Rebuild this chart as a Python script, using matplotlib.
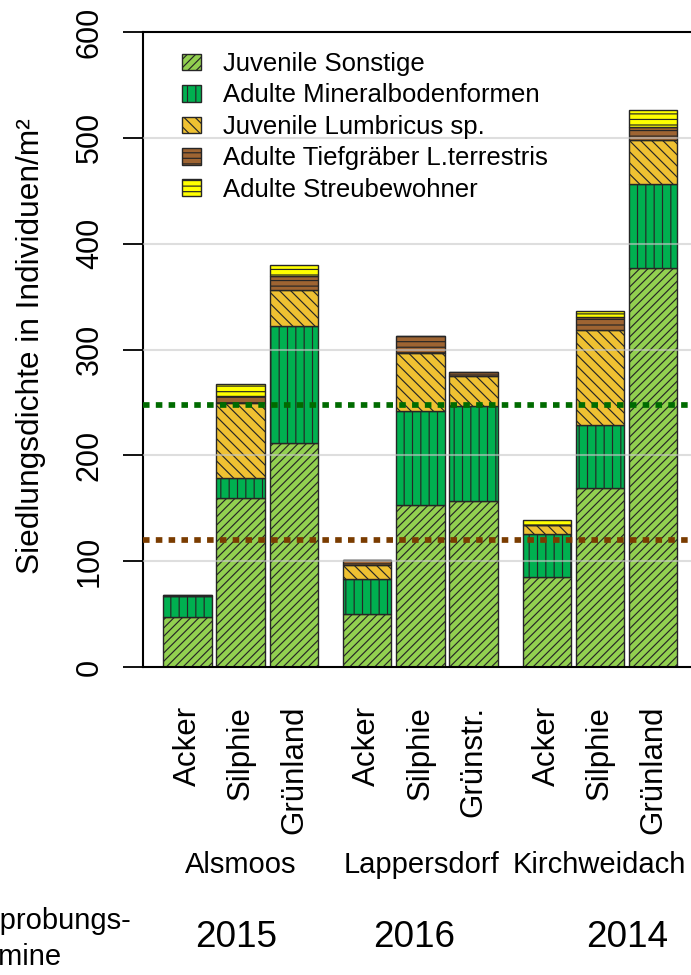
import matplotlib
matplotlib.use("Agg")
import matplotlib.pyplot as plt
import numpy as np

plt.rcParams['font.family'] = ['Liberation Sans', 'DejaVu Sans']
plt.rcParams['hatch.linewidth'] = 0.85

# Sampling sites, years and land use per bar
sites = ["Alsmoos", "Lappersdorf", "Kirchweidach"]
years = ["2015", "2016", "2014"]
uses = ["Acker", "Silphie", "Grünland",
        "Acker", "Silphie", "Grünstr.",
        "Acker", "Silphie", "Grünland"]

# Earthworm density (individuals per m²) by ecological group
juv_sonstige = [47.5, 160, 212, 50, 153, 157, 85, 169, 377]
ad_mineral = [20, 19, 110, 33, 89, 90, 40.5, 60, 79]
juv_lumbricus = [0, 70, 34.5, 13, 54.5, 27.5, 9, 89, 42]
ad_tiefgraeber = [0.8, 7.5, 13, 5.5, 16.5, 4.5, 0, 13, 12.5]
ad_streu = [0, 11, 10, 0, 0, 0, 4, 5.5, 16]

# Reference levels (dotted lines)
ref_green = 248
ref_brown = 120

series = [
    ("Juvenile Sonstige", juv_sonstige, "#92d050", "////"),
    ("Adulte Mineralbodenformen", ad_mineral, "#00b050", "||"),
    ("Juvenile Lumbricus sp.", juv_lumbricus, "#efc132", "\\\\\\"),
    ("Adulte Tiefgräber L.terrestris", ad_tiefgraeber, "#9e6432", "---"),
    ("Adulte Streubewohner", ad_streu, "#ffff00", "---"),
]

W, H = 691, 975
fig = plt.figure(figsize=(W / 100, H / 100), dpi=100)
ax = fig.add_axes([143 / W, 1 - 667 / H, (W - 143) / W, (667 - 32) / H])

gap = 0.376
x = np.array([g * (3 + gap) + i for g in range(len(sites)) for i in range(3)])
bottom = np.zeros(len(x))
handles = []
for label, vals, color, hatch in series:
    v = np.array(vals, dtype=float)
    bars = ax.bar(x, v, width=0.91, bottom=bottom, color=color,
                  edgecolor="#262626", linewidth=1.0, hatch=hatch,
                  label=label, zorder=2)
    handles.append(bars)
    bottom += v

ax.set_xlim(-0.836, 9.464)
ax.set_ylim(0, 600)
yticks = list(range(0, 601, 100))
ax.set_yticks(yticks)
for yv in yticks[1:-1]:
    ax.axhline(yv, color="#c8c8c8", alpha=0.6, lw=1.5, zorder=3)

ax.axhline(ref_green, color="#006b00", lw=4.1, ls=(0, (1.15, 1.1)), zorder=4)
ax.axhline(ref_brown, color="#7a3c00", lw=4.1, ls=(0, (1.15, 1.1)), zorder=4)

for side in ["left", "top", "bottom"]:
    ax.spines[side].set_linewidth(1.5)
ax.spines["right"].set_visible(False)

ax.tick_params(axis="y", length=14.4, width=1.3, labelsize=22,
               labelrotation=90, pad=13)
for lab in ax.get_yticklabels():
    lab.set_va("center")

ax.set_xticks(x)
ax.set_xticklabels(uses, rotation=90, fontsize=22.5)
ax.tick_params(axis="x", length=0, pad=28)

ax.set_ylabel("Siedlungsdichte in Individuen/m²", fontsize=22.8)
ax.yaxis.set_label_coords((46 - 143) / (W - 143), 0.506)

ax.legend(handles, [s[0] for s in series], loc="upper left",
          bbox_to_anchor=(182 / W, 1 - 52 / H), bbox_transform=fig.transFigure,
          frameon=False, fontsize=18.5, handlelength=0.74, handleheight=0.62,
          handletextpad=0.85, labelspacing=0.29, borderpad=0, borderaxespad=0)

site_px = [241, 421, 599]
for name, px in zip(sites, site_px):
    fig.text(px / W, 1 - 873 / H, name, ha="center", va="baseline", fontsize=21)

year_px = [236, 414, 627]
for yr, px in zip(years, year_px):
    fig.text(px / W, 1 - 947 / H, yr, ha="center", va="baseline", fontsize=26.6)

fig.text(-35.5 / W, 1 - 929 / H, "Beprobungs-", ha="left", va="baseline", fontsize=21)
fig.text(-35.5 / W, 1 - 965 / H, "termine", ha="left", va="baseline", fontsize=21)

fig.savefig("out.png", dpi=100)
